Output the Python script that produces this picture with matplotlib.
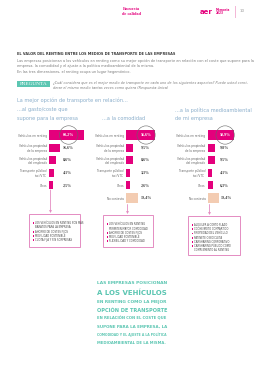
import matplotlib.pyplot as plt
from matplotlib import font_manager
from matplotlib.patches import Rectangle
import numpy as np

W, H = 268, 380

# datos de la encuesta
categorias = ['Vehículos en renting', 'Vehículos propiedad\nde la empresa',
              'Vehículos propiedad\ndel empleado', 'Transporte público/\ntaxi/VTC',
              'Otros', 'No contesta']
coste = [68.2, 16.6, 8.6, 4.1, 2.5]
comodidad = [56.6, 9.5, 8.6, 3.3, 2.6, 19.4]
medioambiente = [50.9, 9.8, 9.5, 4.1, 6.3, 19.4]

caja_coste = ['LOS VEHÍCULOS EN RENTING SON MÁS', '  BARATOS PARA LA EMPRESA',
              'AHORRO DE COSTES FIJOS', 'MOVILIDAD SOSTENIBLE', 'CUOTA FIJA Y SIN SORPRESAS']
caja_comodidad = ['LOS VEHÍCULOS EN RENTING', '  PERMITEN MAYOR COMODIDAD',
                  'AHORRO DE COSTES FIJOS', 'MOVILIDAD SOSTENIBLE', 'FLEXIBILIDAD Y COMODIDAD']
caja_medio = ['ALQUILER A CORTO PLAZO', 'COCHE/MOTO COMPARTIDO', 'PROPIEDAD DEL VEHÍCULO',
              'PATINETE O BICICLETA', 'CARSHARING CORPORATIVO', 'CARSHARING PÚBLICO COMO',
              '  COMPLEMENTO AL RENTING']

conclusion = ['LAS EMPRESAS POSICIONAN', 'A LOS VEHÍCULOS', 'EN RENTING COMO LA MEJOR',
              'OPCIÓN DE TRANSPORTE', 'EN RELACIÓN CON EL COSTE QUE',
              'SUPONE PARA LA EMPRESA, LA', 'COMODIDAD Y EL AJUSTE A LA POLÍTICA',
              'MEDIOAMBIENTAL DE LA MISMA.']

PINK = '#e4007c'
PINK2 = '#e48cc2'
PEACH = '#f3ccb2'
TEAL = '#5cc6b2'
BLUE = '#8aaecb'
GRAY = '#7a7a7a'
DARK = '#444444'

nombres = {f.name for f in font_manager.fontManager.ttflist}
NARROW = 'Liberation Sans Narrow' if 'Liberation Sans Narrow' in nombres else 'DejaVu Sans'
SERIF = 'Liberation Serif' if 'Liberation Serif' in nombres else 'DejaVu Serif'

fig = plt.figure(figsize=(W / 100, H / 100), dpi=100)
bg = fig.add_axes([0, 0, 1, 1])
bg.set_xlim(0, W)
bg.set_ylim(H, 0)
bg.axis('off')
renderer = fig.canvas.get_renderer()


# ajusta el tamaño de letra para que el texto ocupe un ancho dado
def fit(x, y, s, width, **kw):
    kw.setdefault('va', 'center')
    t = bg.text(x, y, s, fontsize=10, **kw)
    w = t.get_window_extent(renderer).width
    fs = 10 * width / w
    t.set_fontsize(fs)
    return fs


# cabecera
bg.text(131.5, 9.5, 'Encuesta', ha='center', va='center', color=PINK, fontsize=3.2,
        weight='bold', family=SERIF)
bg.text(131.5, 14, 'de calidad', ha='center', va='center', color=PINK, fontsize=3.2,
        weight='bold', family=SERIF)
fit(200, 11.5, 'aer', 13, color=PINK, weight='bold')
bg.text(216, 9.6, 'Memoria', color=PINK, fontsize=2.1, weight='bold', va='center')
bg.text(216, 13.2, '2023', color=PINK, fontsize=2.1, weight='bold', va='center')
bg.plot([235, 235], [6, 17], color='#f3b6d6', lw=0.7)
bg.text(240, 11.5, '10', color='#999999', fontsize=3, va='center')

# título y texto
fit(17, 54.3, 'EL VALOR DEL RENTING ENTRE LOS MEDIOS DE TRANSPORTE DE LAS EMPRESAS', 158,
    weight='bold', color='#3a3a3a')
fs = fit(17, 61, 'Las empresas posicionan a los vehículos en renting como su mejor opción de '
         'transporte en relación con el coste que supone para la', 231, color=GRAY)
bg.text(17, 66, 'empresa, la comodidad y el ajuste a la política medioambiental de la misma.',
        fontsize=fs, color=GRAY, va='center')
bg.text(17, 71.7, 'En las tres dimensiones, el renting ocupa un lugar hegemónico.',
        fontsize=fs, color=GRAY, va='center')

bg.add_patch(Rectangle((17, 80.7), 33, 6.8, facecolor=TEAL, edgecolor='none'))
fit(33.5, 84.1, 'PREGUNTA', 28, ha='center', color='white', family=SERIF)
fs = fit(53, 82.7, '¿Cuál considera que es el mejor medio de transporte en cada uno de los '
         'siguientes aspectos? Puede usted consi-', 194, color=GRAY, style='italic')
bg.text(53, 88.3, 'derar el mismo medio tantas veces como quiera (Respuesta única)',
        fontsize=fs, color=GRAY, style='italic', va='center')

fit(17, 100.7, 'La mejor opción de transporte en relación...', 111, color=BLUE)
fs = fit(17, 110, '...al gasto/coste que', 51, color=BLUE)
bg.text(17, 118.3, 'supone para la empresa', fontsize=fs, color=BLUE, va='center')
bg.text(102, 118.3, '...a la comodidad', fontsize=fs, color=BLUE, va='center')
bg.text(175, 110, '...a la política medioambiental', fontsize=fs, color=BLUE, va='center')
bg.text(175, 118.3, 'de mi empresa', fontsize=fs, color=BLUE, va='center')

# paneles de barras
STUB = 6      # tramo fijo para que las barras pequeñas se vean
PX = 0.47     # px por punto porcentual
AXW = 45
ROW0, ROWH = 135, 12.6


def panel(x0, vals, col_off):
    n = len(vals)
    top = ROW0 - 0.6 * ROWH
    bottom = ROW0 + 5.6 * ROWH
    ax = fig.add_axes([x0 / W, 1 - bottom / H, AXW / W, (bottom - top) / H])
    y = np.arange(n)
    colors = [PINK] * 5 + [PEACH]
    hts = [0.8] + [0.64] * 4 + [0.8]
    ax.barh(y, np.array(vals) + STUB, left=-STUB, height=hts[:n], color=colors[:n])
    ax.set_xlim(-STUB, -STUB + AXW / PX)
    ax.set_ylim(5.6, -0.6)
    ax.set_yticks(y, categorias[:n])
    ax.tick_params(axis='y', length=0, pad=1.5, labelsize=2.1, labelcolor='#666666')
    ax.set_xticks([])
    for s in ax.spines.values():
        s.set_visible(False)
    ax.patch.set_visible(False)
    col = -STUB + col_off / PX
    for i, v in enumerate(vals):
        lab = f'{v:.1f}%'.replace('.', ',')
        if i == 0:
            ax.text(col, i, lab, color='white', fontsize=3, weight='bold', family=SERIF,
                    ha='left', va='center',
                    bbox=dict(boxstyle='circle,pad=0.85', fc='none', ec='#666666', lw=0.4))
        else:
            ax.text(max(col, v + 1.5 / PX), i, lab, color=DARK, fontsize=3, weight='bold',
                    family=SERIF, ha='left', va='center')
    return ax


panel(49, coste, 14)
panel(126, comodidad, 14.5)
panel(207.5, medioambiente, 12)

# flechas y cajas
for x, y0, y1 in [(50.5, 190, 213), (127.5, 204.5, 214), (209.5, 204.5, 215)]:
    bg.annotate('', xy=(x, y1), xytext=(x, y0),
                arrowprops=dict(arrowstyle='-|>', color=PINK2, lw=0.6, mutation_scale=3,
                                shrinkA=0, shrinkB=0))


def caja(x, y, w, h, lineas, ly0):
    bg.add_patch(Rectangle((x + 0.8, y + 0.8), w, h, facecolor='#ebebeb', edgecolor='none'))
    bg.add_patch(Rectangle((x, y), w, h, facecolor='white', edgecolor=PINK2, lw=0.7))
    for k, s in enumerate(lineas):
        yy = ly0 + 4.2 * k
        if not s.startswith('  '):
            bg.add_patch(Rectangle((x + 3.5, yy - 0.9), 1.8, 1.8, facecolor=PINK, edgecolor='none'))
        bg.text(x + 6, yy, s.strip(), fontsize=1.8, color=DARK, va='center')


caja(29, 214, 51, 33, caja_coste, 223.3)
caja(103, 215, 50, 32, caja_comodidad, 224.3)
caja(188, 216, 52, 39, caja_medio, 225)

# conclusión
ys = [283.3, 292.7, 302.3, 310, 318.3, 326.7, 334.3, 342.7]
for s, yy in zip(conclusion, ys):
    fit(97, yy, s, 70, color=TEAL, weight='bold', family=NARROW)

fig.savefig('out.png', dpi=100)
